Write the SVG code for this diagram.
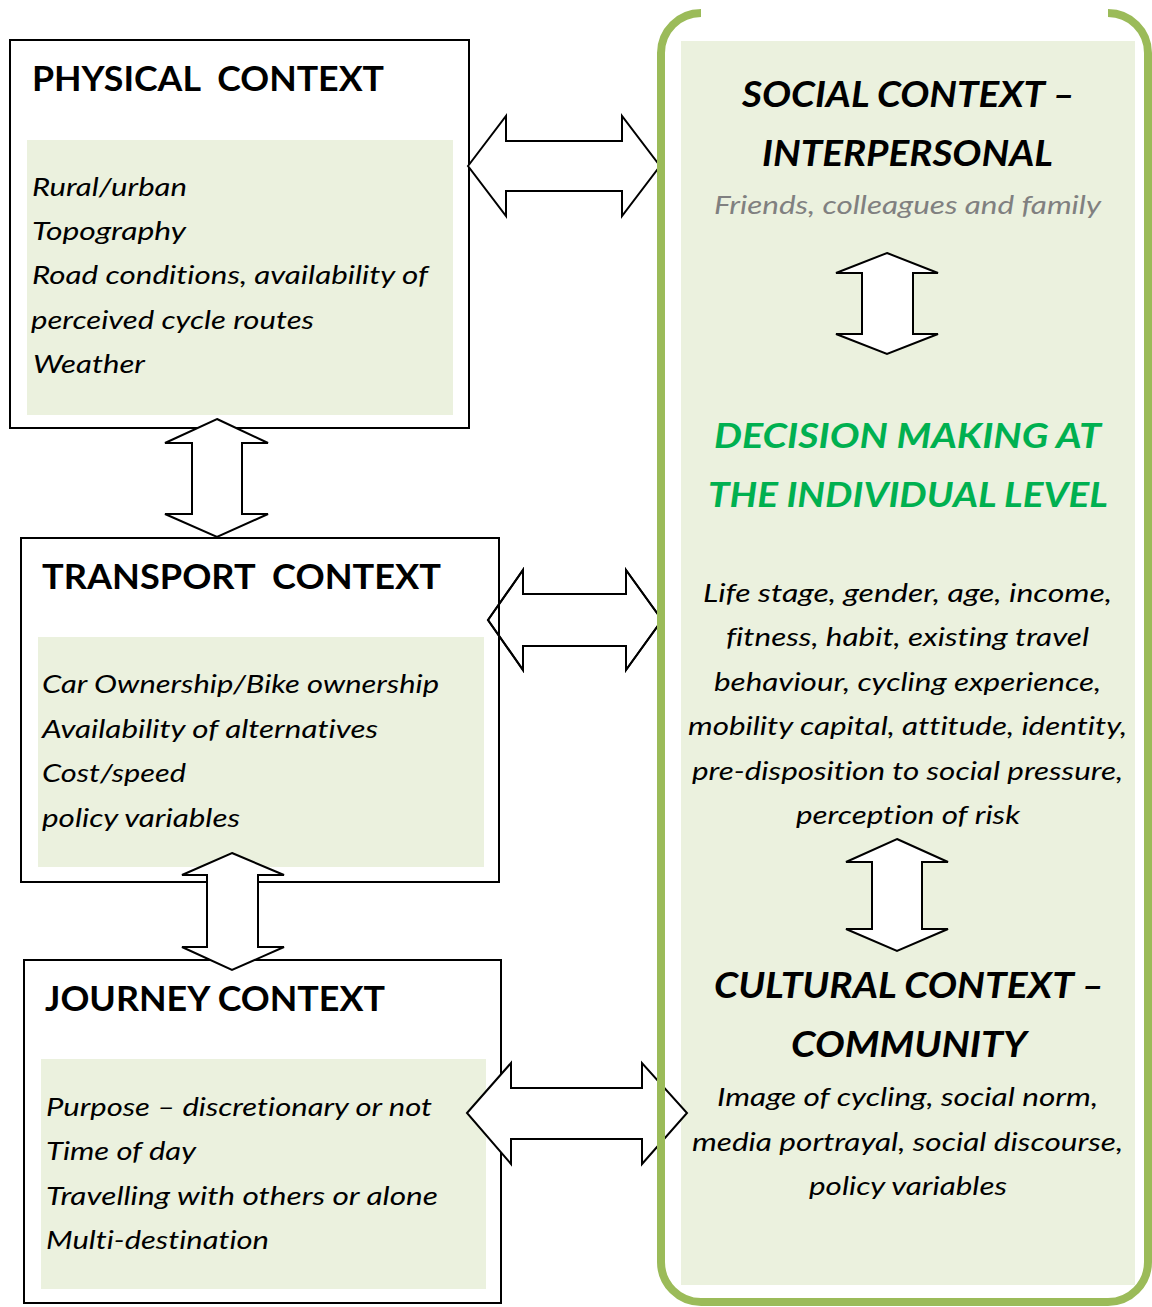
<svg xmlns="http://www.w3.org/2000/svg" width="1152" height="1307" viewBox="0 0 1152 1307">
<style>
text{font-variant-ligatures:none;font-feature-settings:"liga" 0,"clig" 0}
.box{fill:#FFFFFF;stroke:#000000;stroke-width:2}
.inner{fill:#EBF1DE;stroke:none}
.title{font-family:Lato,"Liberation Sans",sans-serif;font-weight:bold;font-size:35px;fill:#000000}
.body{font-family:Lato,"Liberation Sans",sans-serif;font-style:italic;font-size:26px;fill:#000000}
.rtitle{font-family:Lato,"Liberation Sans",sans-serif;font-weight:bold;font-style:italic;font-size:37px;fill:#000000}
.gtitle{font-family:Lato,"Liberation Sans",sans-serif;font-weight:bold;font-style:italic;font-size:35px;fill:#00B050}
.gray{font-family:Lato,"Liberation Sans",sans-serif;font-style:italic;font-size:26px;fill:#808080}
.arrow{fill:#FFFFFF;stroke:#000000;stroke-width:2;stroke-linejoin:miter}
.arrow-open{fill:none;stroke:#000000;stroke-width:2;stroke-linejoin:miter}
.border{fill:none;stroke:#9BBB59;stroke-width:8}
</style>
<rect width="1152" height="1307" fill="#FFFFFF"/>
<g id="panel-fill">
<rect class="inner" x="681" y="41" width="454" height="1244"/>
</g>
<g id="physical-context">
<rect class="box" x="10" y="40" width="459" height="388"/>
<rect class="inner" x="27" y="140" width="426" height="275"/>
<text class="title" x="32" y="91" textLength="352" lengthAdjust="spacingAndGlyphs" xml:space="preserve">PHYSICAL  CONTEXT</text>
<text class="body" x="32" y="196" textLength="155" lengthAdjust="spacingAndGlyphs">Rural/urban</text>
<text class="body" x="32" y="240" textLength="154" lengthAdjust="spacingAndGlyphs">Topography</text>
<text class="body" x="32" y="284" textLength="396" lengthAdjust="spacingAndGlyphs">Road conditions, availability of</text>
<text class="body" x="31" y="329" textLength="283" lengthAdjust="spacingAndGlyphs">perceived cycle routes</text>
<text class="body" x="33" y="373" textLength="112" lengthAdjust="spacingAndGlyphs">Weather</text>
</g>
<g id="arrow2-bg">
<polygon class="arrow" points="488,620 523,570 523,594 626,594 626,570 662,620 626,670 626,646 523,646 523,670"/>
</g>
<g id="transport-context">
<rect class="box" x="21" y="538" width="478" height="344" style="fill:none"/>
<rect class="inner" x="38" y="637" width="446" height="230"/>
<text class="title" x="42" y="589" textLength="399" lengthAdjust="spacingAndGlyphs" xml:space="preserve">TRANSPORT  CONTEXT</text>
<text class="body" x="42" y="693" textLength="397" lengthAdjust="spacingAndGlyphs">Car Ownership/Bike ownership</text>
<text class="body" x="42" y="738" textLength="336" lengthAdjust="spacingAndGlyphs">Availability of alternatives</text>
<text class="body" x="42" y="782" textLength="144" lengthAdjust="spacingAndGlyphs">Cost/speed</text>
<text class="body" x="42" y="827" textLength="198" lengthAdjust="spacingAndGlyphs">policy variables</text>
</g>
<g id="journey-context">
<rect class="box" x="24" y="960" width="477" height="343"/>
<rect class="inner" x="41" y="1059" width="445" height="230"/>
<text class="title" x="45" y="1011" textLength="340" lengthAdjust="spacingAndGlyphs">JOURNEY CONTEXT</text>
<text class="body" x="46" y="1116" textLength="386" lengthAdjust="spacingAndGlyphs">Purpose – discretionary or not</text>
<text class="body" x="46" y="1160" textLength="150" lengthAdjust="spacingAndGlyphs">Time of day</text>
<text class="body" x="46" y="1205" textLength="392" lengthAdjust="spacingAndGlyphs">Travelling with others or alone</text>
<text class="body" x="46" y="1249" textLength="223" lengthAdjust="spacingAndGlyphs">Multi-destination</text>
</g>
<g id="connectors">
<polygon class="arrow" points="468,166 506,116 506,141 622,141 622,116 660,166 622,216 622,191 506,191 506,216"/>
<polygon class="arrow-open" points="488,620 523,570 523,594 626,594 626,570 662,620 626,670 626,646 523,646 523,670"/>
<polygon class="arrow" points="467,1113 511,1063 511,1088 642,1088 642,1063 687,1113 642,1164 642,1139 511,1139 511,1164"/>
<polygon class="arrow" points="217,419 268,443 242,443 242,514 268,514 217,537 165,514 192,514 192,443 165,443"/>
<polygon class="arrow" points="232,853 284,875 258,875 258,947 284,947 232,970 182,947 207,947 207,875 182,875"/>
<polygon class="arrow" points="887,253 938,273 913,273 913,334 938,334 887,354 836,334 862,334 862,273 836,273"/>
<polygon class="arrow" points="897,839 948,862 922,862 922,929 948,929 897,951 846,929 872,929 872,862 846,862"/>
</g>
<g id="panel-border">
<path class="border" d="M701,13 A40,40 0 0 0 661,53 L661,1262 A40,40 0 0 0 701,1302 L1108,1302 A40,40 0 0 0 1148,1262 L1148,53 A40,40 0 0 0 1108,13"/>
</g>
<g id="social-context">
<text class="rtitle" x="742" y="107" textLength="333" lengthAdjust="spacingAndGlyphs">SOCIAL CONTEXT –</text>
<text class="rtitle" x="762" y="166" textLength="291" lengthAdjust="spacingAndGlyphs">INTERPERSONAL</text>
<text class="gray" x="714" y="214" textLength="387" lengthAdjust="spacingAndGlyphs">Friends, colleagues and family</text>
</g>
<g id="decision-making">
<text class="gtitle" x="714" y="448" textLength="387" lengthAdjust="spacingAndGlyphs">DECISION MAKING AT</text>
<text class="gtitle" x="708" y="507" textLength="400" lengthAdjust="spacingAndGlyphs">THE INDIVIDUAL LEVEL</text>
<text class="body" x="703" y="602" textLength="409" lengthAdjust="spacingAndGlyphs">Life stage, gender, age, income,</text>
<text class="body" x="726" y="646" textLength="363" lengthAdjust="spacingAndGlyphs">fitness, habit, existing travel</text>
<text class="body" x="714" y="691" textLength="387" lengthAdjust="spacingAndGlyphs">behaviour, cycling experience,</text>
<text class="body" x="688" y="735" textLength="439" lengthAdjust="spacingAndGlyphs">mobility capital, attitude, identity,</text>
<text class="body" x="692" y="780" textLength="431" lengthAdjust="spacingAndGlyphs">pre-disposition to social pressure,</text>
<text class="body" x="796" y="824" textLength="224" lengthAdjust="spacingAndGlyphs">perception of risk</text>
</g>
<g id="cultural-context">
<text class="rtitle" x="714" y="998" textLength="390" lengthAdjust="spacingAndGlyphs">CULTURAL CONTEXT –</text>
<text class="rtitle" x="791" y="1057" textLength="236" lengthAdjust="spacingAndGlyphs">COMMUNITY</text>
<text class="body" x="717" y="1106" textLength="381" lengthAdjust="spacingAndGlyphs">Image of cycling, social norm,</text>
<text class="body" x="692" y="1151" textLength="431" lengthAdjust="spacingAndGlyphs">media portrayal, social discourse,</text>
<text class="body" x="809" y="1195" textLength="198" lengthAdjust="spacingAndGlyphs">policy variables</text>
</g>
</svg>
